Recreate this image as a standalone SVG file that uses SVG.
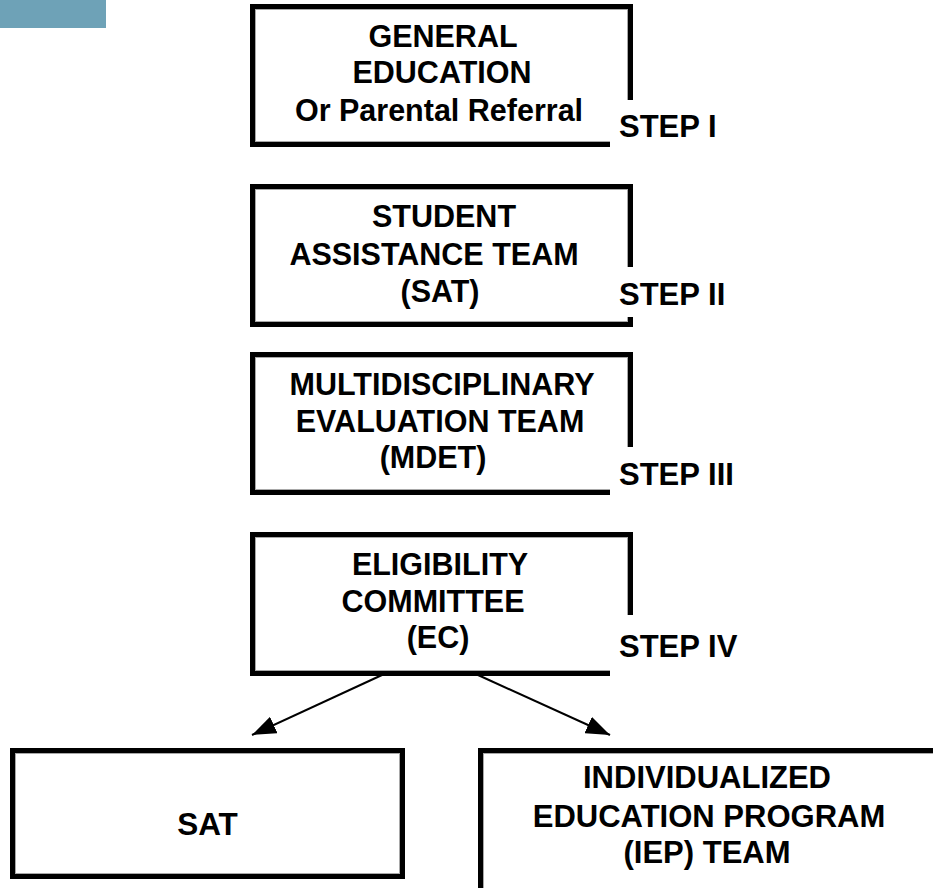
<svg xmlns="http://www.w3.org/2000/svg" width="933" height="888" viewBox="0 0 933 888">
<defs>
<style>
.box{fill:#ffffff;stroke:#000000;stroke-width:5}
.inner{fill:none;stroke:#a8a8a8;stroke-width:1}
.t{font-family:"Liberation Sans",Arial,sans-serif;font-weight:bold;font-size:30.5px;fill:#000000;text-anchor:middle}
.step{font-family:"Liberation Sans",Arial,sans-serif;font-weight:bold;font-size:31px;fill:#000000}
.bg{fill:#ffffff}
.conn{stroke:#000000;stroke-width:2;fill:none}
</style>
<marker id="arrow" viewBox="0 0 12 10" refX="11" refY="5" markerWidth="12" markerHeight="10" markerUnits="userSpaceOnUse" orient="auto">
<path d="M0,0 L12,5 L0,10 z" fill="#000000"/>
</marker>
<marker id="ah" viewBox="0 0 24 18" refX="24" refY="9" markerWidth="24" markerHeight="18" markerUnits="userSpaceOnUse" orient="auto">
<path d="M0,0 L24,9 L0,18 z" fill="#000000"/>
</marker>
</defs>
<rect id="corner-tab" x="0" y="0" width="106" height="28" fill="#6ea2b7"/>
<g id="step1">
<rect class="box" x="252.5" y="6.5" width="378" height="138"/>
<rect class="inner" x="255.5" y="9.5" width="372" height="132"/>
<text class="t" x="443" y="47">GENERAL</text>
<text class="t" x="442" y="83">EDUCATION</text>
<text class="t" x="439" y="121">Or Parental Referral</text>
<rect class="bg" x="610" y="100" width="115" height="50"/>
<text class="step" x="619" y="137">STEP I</text>
</g>
<g id="step2">
<rect class="box" x="252.5" y="186.5" width="378" height="138"/>
<rect class="inner" x="255.5" y="189.5" width="372" height="132"/>
<text class="t" x="444" y="227">STUDENT</text>
<text class="t" x="434" y="265">ASSISTANCE TEAM</text>
<text class="t" x="440" y="302">(SAT)</text>
<rect class="bg" x="612" y="267" width="125" height="50"/>
<text class="step" x="619" y="305">STEP II</text>
</g>
<g id="step3">
<rect class="box" x="252.5" y="354.5" width="378" height="138"/>
<rect class="inner" x="255.5" y="357.5" width="372" height="132"/>
<text class="t" x="442" y="395">MULTIDISCIPLINARY</text>
<text class="t" x="440" y="432">EVALUATION TEAM</text>
<text class="t" x="433" y="468">(MDET)</text>
<rect class="bg" x="610" y="447" width="130" height="53"/>
<text class="step" x="619" y="485">STEP III</text>
</g>
<g id="step4">
<rect class="box" x="252.5" y="534.5" width="378" height="139"/>
<rect class="inner" x="255.5" y="537.5" width="372" height="133"/>
<text class="t" x="440" y="575">ELIGIBILITY</text>
<text class="t" x="433" y="612">COMMITTEE</text>
<text class="t" x="438" y="648">(EC)</text>
<rect class="bg" x="610" y="615" width="135" height="65"/>
<text class="step" x="619" y="657">STEP IV</text>
</g>
<g id="connectors">
<line class="conn" x1="382" y1="675" x2="252" y2="735" marker-end="url(#ah)"/>
<line class="conn" x1="478" y1="675" x2="610" y2="735" marker-end="url(#ah)"/>
</g>
<g id="sat">
<rect class="box" x="12.5" y="750.5" width="390" height="126"/>
<rect class="inner" x="15.5" y="753.5" width="384" height="120"/>
<text class="t" x="207.5" y="835" style="font-size:31.5px">SAT</text>
</g>
<g id="iep">
<rect class="box" x="480.5" y="750.5" width="456" height="142"/>
<rect class="inner" x="483.5" y="753.5" width="450" height="136"/>
<text class="t" x="707" y="788" style="font-size:31px">INDIVIDUALIZED</text>
<text class="t" x="709" y="827" style="font-size:31px">EDUCATION PROGRAM</text>
<text class="t" x="707" y="863" style="font-size:31px">(IEP) TEAM</text>
</g>
</svg>
